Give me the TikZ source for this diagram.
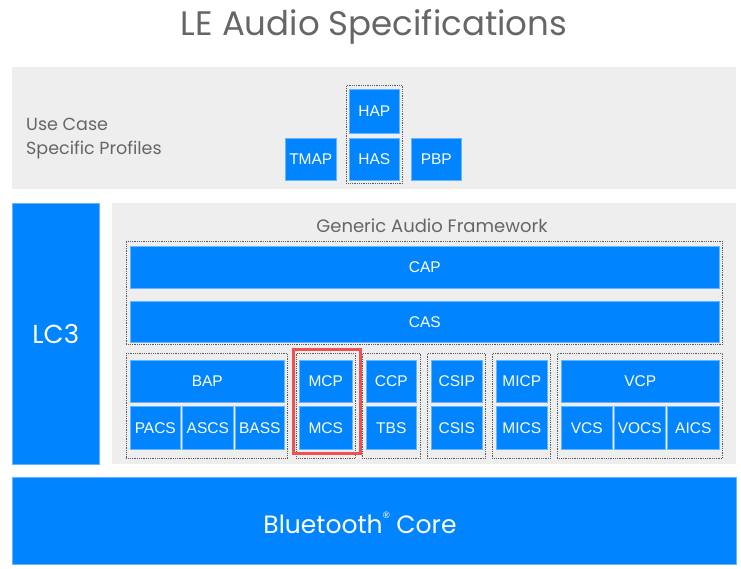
\documentclass[tikz,border=0pt]{standalone}
\usepackage{fontspec}
\setmainfont{Poppins}
\newfontfamily\boxfont{Liberation Sans}
\newfontfamily\latofont{Lato}
\usetikzlibrary{positioning}
\definecolor{btblue}{RGB}{0,132,255}
\definecolor{panelgray}{RGB}{238,238,238}
\definecolor{textgray}{RGB}{102,102,102}
\definecolor{dotgray}{RGB}{90,90,90}
\definecolor{hlred}{RGB}{240,80,80}
\tikzset{
  bbox/.style={fill=btblue, draw=btblue!60!white, line width=0.6pt, text=white, inner sep=0pt,
    anchor=north west, font=\boxfont\fontsize{15.5}{16}\selectfont},
  panel/.style={fill=panelgray, draw=none, anchor=north west, inner sep=0pt},
  grp/.style={draw=dotgray, densely dotted, line width=0.8pt, fill=none, anchor=north west, inner sep=0pt},
  hl/.style={draw=hlred, line width=3pt, fill=none, anchor=north west, inner sep=0pt},
  lbl/.style={text=textgray, inner sep=0pt}
}
\newcommand{\bx}[6][bbox]{\node[#1, minimum width=#4pt, minimum height=#5pt] (#2) at #3 {#6};}
\begin{document}
\begin{tikzpicture}[x=1pt,y=-1pt]
\useasboundingbox (0,0) rectangle (741,569);
% title
\node[lbl, font=\fontsize{34}{38}\selectfont] (title) at (374,27) {LE Audio Specifications};
% top band
\bx[panel]{top}{(12,67)}{724}{122}{}
\node[lbl, anchor=west, align=left, font=\fontsize{17.5}{24}\selectfont] (ucsp) at (26,139) {Use Case\\Specific Profiles};
\bx[grp]{hapgrp}{(346,85)}{56}{98}{}
\bx{tmap}{(285,138)}{51}{42}{TMAP}
\bx{hap}{(349,89)}{50}{44}{HAP}
\bx{has}{(349,138)}{50}{42}{HAS}
\bx{pbp}{(411,138)}{50}{42}{PBP}
% LC3
\bx{lc3}{(12,203)}{87}{261}{}
\node[text=white, font=\fontsize{26}{28}\selectfont] (lc3t) at (lc3.center) {LC3};
% GAF
\bx[panel]{gaf}{(112,203)}{624}{261}{}
\node[lbl, font=\fontsize{18}{20}\selectfont] (gaft) at (432,226) {Generic Audio Framework};
\bx[grp]{capgrp}{(126,241)}{596}{103}{}
\bx{cap}{(130,246)}{589}{42}{CAP}
\bx{cas}{(130,301)}{589}{41}{CAS}
% groups
\bx[grp]{bapgrp}{(126,353)}{161}{105}{}
\bx{bap}{(130,360)}{154}{42}{BAP}
\bx{pacs}{(130,406)}{50}{43}{PACS}
\bx{ascs}{(182,406)}{51}{43}{ASCS}
\bx{bass}{(235,406)}{49}{43}{BASS}
\bx[grp]{mcpgrp}{(296,353)}{59}{105}{}
\bx{mcp}{(299,360)}{53}{42}{MCP}
\bx{mcs}{(299,406)}{53}{43}{MCS}
\bx[hl]{hilite}{(292,348)}{67}{104}{}
\bx[grp]{ccpgrp}{(362,353)}{58}{105}{}
\bx{ccp}{(366,360)}{50}{42}{CCP}
\bx{tbs}{(366,406)}{50}{43}{TBS}
\bx[grp]{csipgrp}{(427,353)}{58}{105}{}
\bx{csip}{(431,360)}{51}{42}{CSIP}
\bx{csis}{(431,406)}{51}{43}{CSIS}
\bx[grp]{micpgrp}{(492,353)}{58}{105}{}
\bx{micp}{(496,360)}{51}{42}{MICP}
\bx{mics}{(496,406)}{51}{43}{MICS}
\bx[grp]{vcpgrp}{(557,353)}{165}{105}{}
\bx{vcp}{(561,360)}{158}{42}{VCP}
\bx{vcs}{(561,406)}{51}{43}{VCS}
\bx{vocs}{(614,406)}{51}{43}{VOCS}
\bx{aics}{(667,406)}{52}{43}{AICS}
% core
\bx{core}{(12,477)}{724}{87}{}
\node[text=white, font=\fontsize{25}{28}\selectfont] (coret) at (360,523) {Bluetooth\raisebox{1.1ex}{\latofont\fontsize{9}{9}\selectfont ®}\hspace{0.25em}Core};
\end{tikzpicture}
\end{document}
